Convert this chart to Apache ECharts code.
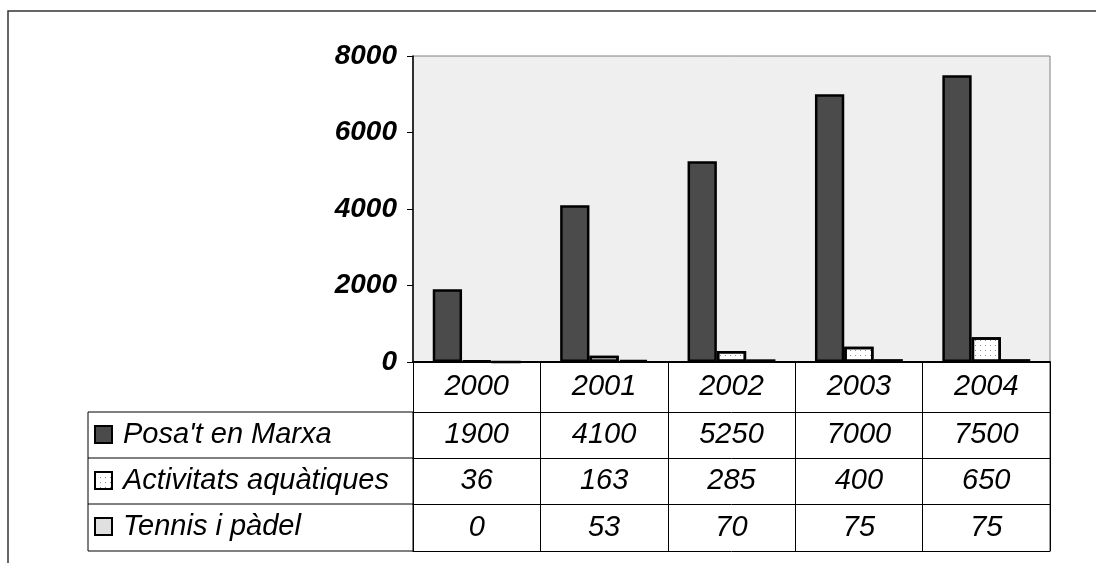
<!DOCTYPE html>
<html>
<head>
<meta charset="utf-8">
<script src="https://cdn.jsdelivr.net/npm/echarts@6/dist/echarts.min.js"></script>
<style>
  html, body { margin: 0; padding: 0; background: #fff; }
</style>
</head>
<body>
<div id="main1" style="width: 1096px;height: 563px;"></div>
<script>
    // data
    const years = ['2000', '2001', '2002', '2003', '2004'];
    const marxa = [1900, 4100, 5250, 7000, 7500];
    const aquatiques = [36, 163, 285, 400, 650];
    const tennis = [0, 53, 70, 75, 75];
    const names = ["Posa't en Marxa", 'Activitats aquàtiques', 'Tennis i pàdel'];

    const font = "'Liberation Sans', Arial, sans-serif";

    // one x axis per table row, stacked under the plot with offsets
    function tableAxis(data, offset, rowH) {
        return {
            type: 'category',
            gridIndex: 0,
            position: 'bottom',
            offset: offset,
            data: data,
            axisLine: { show: true, lineStyle: { color: '#000', width: 1 } },
            axisTick: { show: true, length: rowH, lineStyle: { color: '#000', width: 1 } },
            axisLabel: {
                show: true,
                margin: rowH / 2,
                verticalAlign: 'middle',
                color: '#000',
                fontFamily: font,
                fontStyle: 'italic',
                fontSize: 29
            },
            splitLine: { show: false }
        };
    }

    function legendRow(name, top) {
        return {
            data: [name],
            left: 94,
            top: top,
            padding: 0,
            itemWidth: 17,
            itemHeight: 17,
            icon: 'rect',
            textStyle: {
                color: '#000',
                fontFamily: font,
                fontStyle: 'italic',
                fontSize: 29,
                padding: [0, 0, 0, 6]
            }
        };
    }

    const chart = echarts.init(document.getElementById('main1'));
    chart.setOption({
        animation: false,
        backgroundColor: '#fff',
        grid: {
            left: 413,
            right: 46,
            top: 56,
            bottom: 201,
            show: true,
            backgroundColor: '#efefef',
            borderColor: '#808080',
            borderWidth: 1
        },
        legend: [
            legendRow(names[0], 420),
            legendRow(names[1], 466),
            legendRow(names[2], 512)
        ],
        xAxis: [
            {
                type: 'category',
                data: years,
                axisLine: { show: true, lineStyle: { color: '#000', width: 2 } },
                axisTick: { show: true, length: 50, lineStyle: { color: '#000', width: 1 } },
                axisLabel: {
                    margin: 25,
                    verticalAlign: 'middle',
                    color: '#000',
                    fontFamily: font,
                    fontStyle: 'italic',
                    fontSize: 29
                }
            },
            tableAxis(marxa.map(String), 50, 46),
            tableAxis(aquatiques.map(String), 96, 46),
            tableAxis(tennis.map(String), 142, 47),
            {
                type: 'category',
                position: 'bottom',
                offset: 189,
                data: years,
                axisLine: { show: true, lineStyle: { color: '#000', width: 1 } },
                axisTick: { show: false },
                axisLabel: { show: false }
            }
        ],
        yAxis: {
            type: 'value',
            min: 0,
            max: 8000,
            interval: 2000,
            axisLine: { show: true, lineStyle: { color: '#000', width: 1.5 } },
            axisTick: { show: true, length: 6, lineStyle: { color: '#000' } },
            splitLine: { show: false },
            axisLabel: {
                margin: 16,
                color: '#000',
                fontFamily: font,
                fontStyle: 'italic',
                fontWeight: 'bold',
                fontSize: 28,
                formatter: function (v) { return String(v); }
            }
        },
        series: [
            {
                name: names[0],
                type: 'bar',
                data: marxa,
                barGap: '0%',
                barCategoryGap: '31%',
                itemStyle: { color: '#4b4b4b', borderColor: '#000', borderWidth: 2.5 }
            },
            {
                name: names[1],
                type: 'bar',
                data: aquatiques,
                itemStyle: {
                    color: '#fff',
                    borderColor: '#000',
                    borderWidth: 2.5,
                    decal: {
                        symbol: 'rect',
                        symbolSize: 1,
                        color: '#8a8a8a',
                        dashArrayX: [1, 4],
                        dashArrayY: [1, 4],
                        rotation: 0
                    }
                }
            },
            {
                name: names[2],
                type: 'bar',
                data: tennis,
                itemStyle: { color: '#e0e0e0', borderColor: '#000', borderWidth: 2.5 }
            }
        ],
        graphic: [
            {
                type: 'rect',
                shape: { x: 8, y: 11, width: 1300, height: 800 },
                style: { fill: null, stroke: '#333', lineWidth: 1.5 },
                silent: true
            },
            {
                type: 'rect',
                shape: { x: 88, y: 412, width: 325, height: 139 },
                style: { fill: null, stroke: '#000', lineWidth: 1 },
                silent: true
            },
            {
                type: 'line',
                shape: { x1: 88, y1: 458, x2: 413, y2: 458 },
                style: { stroke: '#000', lineWidth: 1 },
                silent: true
            },
            {
                type: 'line',
                shape: { x1: 88, y1: 504, x2: 413, y2: 504 },
                style: { stroke: '#000', lineWidth: 1 },
                silent: true
            },
            {
                type: 'line',
                shape: { x1: 1050, y1: 362, x2: 1050, y2: 551 },
                style: { stroke: '#808080', lineWidth: 1.5 },
                silent: true
            }
        ]
    });
</script>
</body>
</html>
